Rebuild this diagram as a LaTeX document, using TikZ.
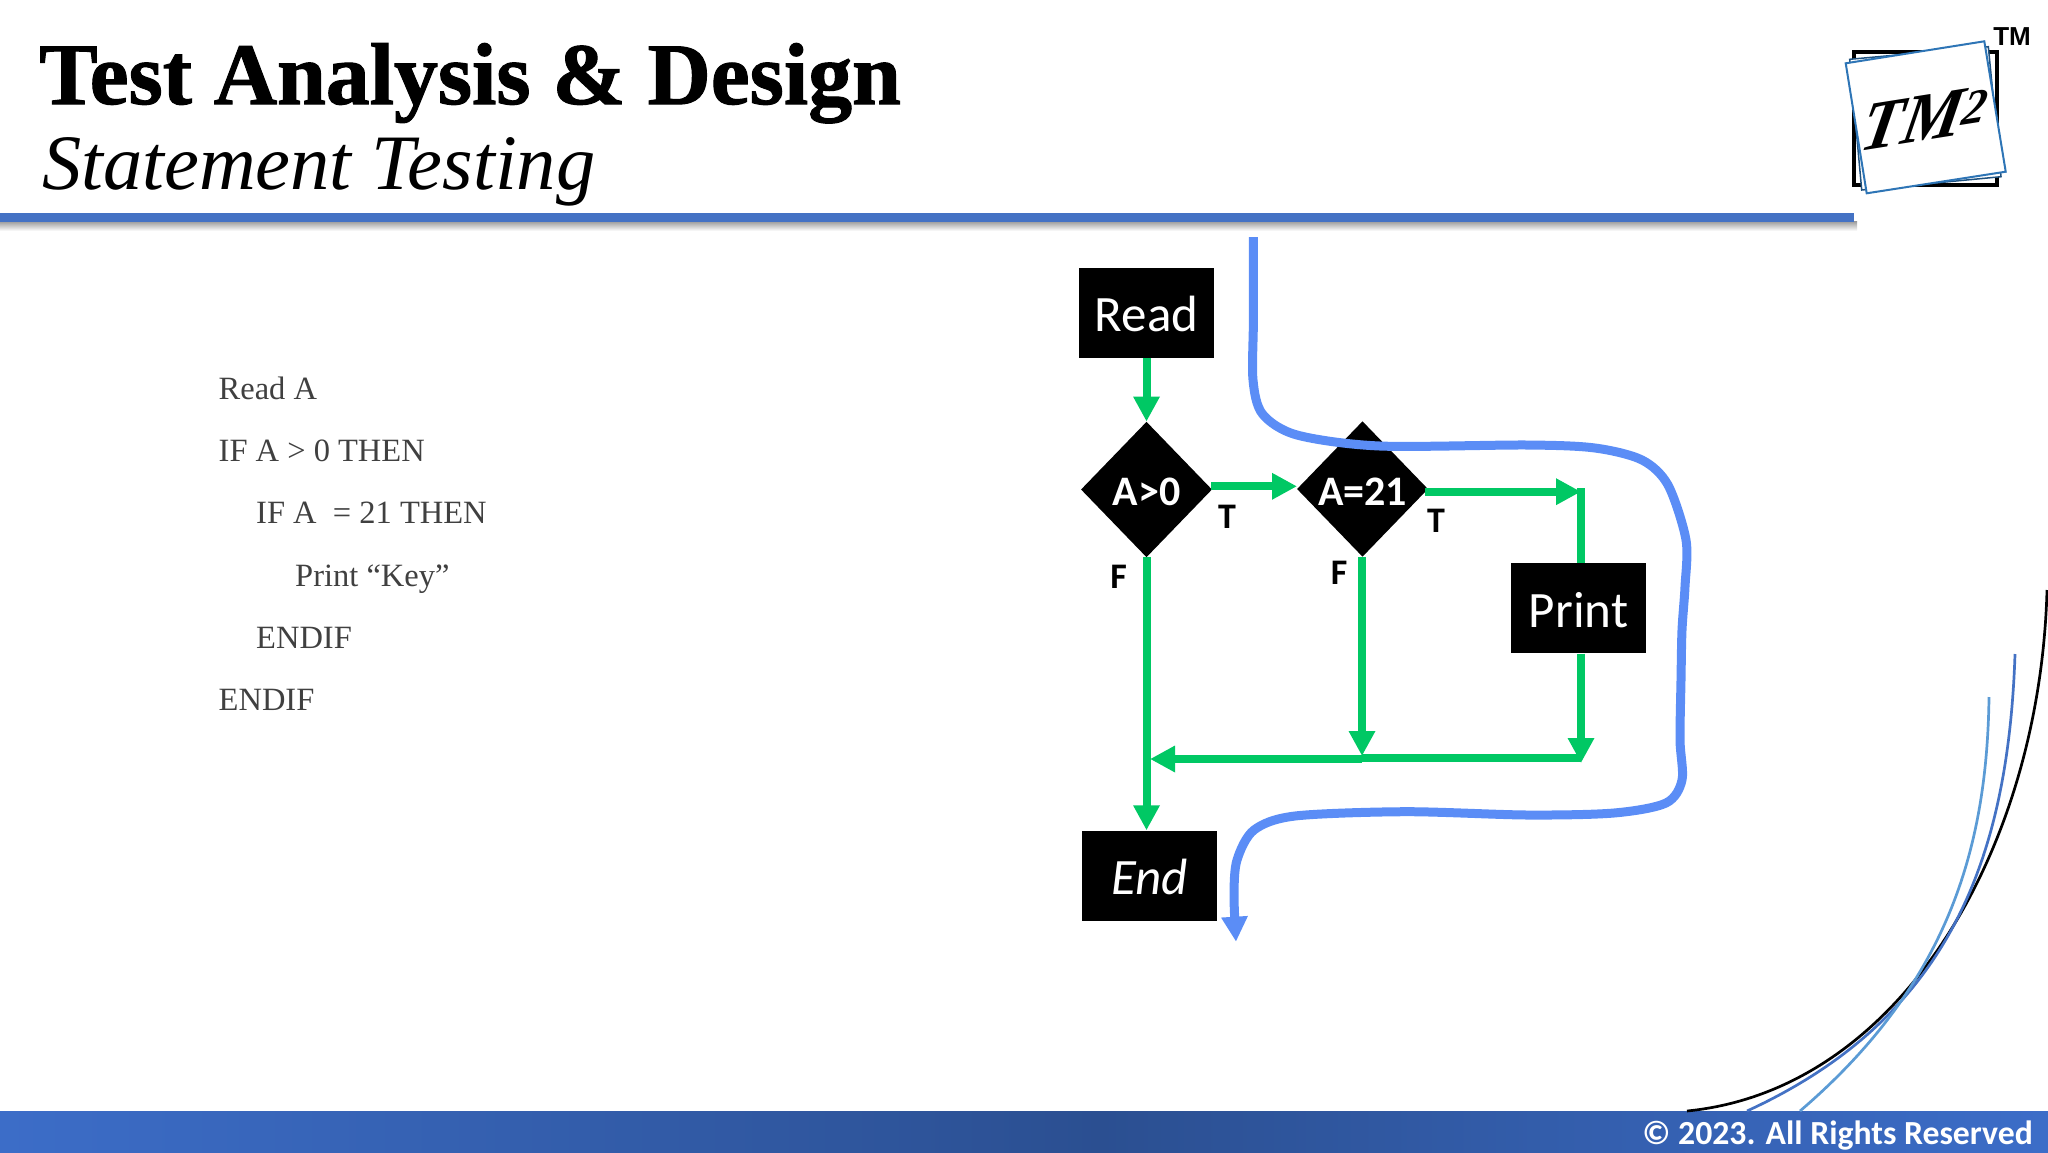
\documentclass[tikz,border=0pt]{standalone}
\usepackage{fontspec}
\setmainfont{Liberation Serif}
\newfontfamily\flowfont{Carlito}
\newfontfamily\armfont{Liberation Sans}
\newfontfamily\titlefont[FakeBold=1.2]{Liberation Serif}
\usetikzlibrary{arrows.meta,shapes.geometric}
\definecolor{flowgreen}{HTML}{00C864}
\definecolor{pathblue}{HTML}{5B8DF6}
\definecolor{ruleblue}{HTML}{4472C4}
\definecolor{lightblue}{HTML}{5B9BD5}
\definecolor{logoblue}{HTML}{2E75B6}
\definecolor{footdark}{HTML}{2B4F91}
\definecolor{footlight}{HTML}{3C6DC8}
\definecolor{codegray}{HTML}{404040}
\tikzset{
  stepbox/.style={fill=black,text=white,minimum width=135pt,minimum height=90pt,inner sep=0pt,text height=37.5pt,text depth=0pt,font=\flowfont\fontsize{51}{60}\selectfont},
  branch/.style={diamond,aspect=1,fill=black,text=white,minimum width=131pt,minimum height=135.5pt,inner sep=0pt,text height=32pt,text depth=0pt,font=\flowfont\bfseries\fontsize{42}{48}\selectfont},
  flag/.style={inner sep=0pt,font=\flowfont\bfseries\fontsize{36}{42}\selectfont},
  flow/.style={draw=flowgreen,line width=8pt,-{Triangle[length=25pt,width=25pt]}},
  flowline/.style={draw=flowgreen,line width=8pt},
  codeline/.style={anchor=base west,inner sep=0pt,text=codegray,font=\fontsize{32.5}{38}\selectfont},
  cornerarc/.style={line width=2.7pt},
  sheet/.style={draw=logoblue,fill=white,line width=2pt}
}
\begin{document}
\begin{tikzpicture}[x=1pt,y=-1pt]
    \useasboundingbox (0,0) rectangle (2048,1152);
    % title
    \node[anchor=base west,inner sep=0pt,font=\titlefont\bfseries\fontsize{87.7}{100}\selectfont] (title) at (39,104) {Test Analysis \& Design};
    \node[anchor=base west,inner sep=0pt,font=\itshape\fontsize{78.5}{90}\selectfont] (subtitle) at (42,189) {Statement Testing};
    % rule under the title
    \fill[top color=black!40,bottom color=white] (0,221) rectangle (1857,231);
    \fill[ruleblue] (0,213) rectangle (1854,222);

    % logo
    \draw[line width=4pt] (1854,52) rectangle (1997,185);
    \draw[draw=logoblue!70!black,fill=white,line width=1.5pt] (1849.7,59.3) -- (1988.3,46.7) -- (2001,176.7) -- (1861.7,190) -- cycle;
    \draw[sheet] (1845.7,63.3) -- (1984.3,41.3) -- (2005.7,171.7) -- (1866.7,193.3) -- cycle;
    \node[rotate=9,xslant=0.35,inner sep=0pt,font=\bfseries\itshape\fontsize{68}{74}\selectfont] (logotext) at (1925,118) {TM\textsuperscript{2}};
    \node[inner sep=0pt,font=\armfont\bfseries\fontsize{26}{30}\selectfont] (trademark) at (2012,37) {TM};

    % pseudo code
    \node[codeline] (lineA) at (218.5,399) {Read A};
    \node[codeline] (lineB) at (218.5,461) {IF A > 0 THEN};
    \node[codeline] (lineC) at (256,523) {IF A\ \ = 21 THEN};
    \node[codeline] (lineD) at (295,586) {Print “Key”};
    \node[codeline] (lineE) at (256,648) {ENDIF};
    \node[codeline] (lineF) at (218.5,710) {ENDIF};

    % boxes and decisions
    \node[stepbox] (read) at (1146.5,312.7) {Read};
    \node[branch] (ifOne) at (1146.5,489.5) {A>0};
    \node[branch] (ifTwo) at (1362.5,489) {A=21};
    \node[stepbox] (print) at (1578.5,608.3) {Print};
    \node[stepbox,font=\flowfont\itshape\fontsize{51}{60}\selectfont] (end) at (1149.5,875.5) {End};
    \node[flag] (tOne) at (1227,517) {T};
    \node[flag] (tTwo) at (1436,521) {T};
    \node[flag] (fOne) at (1118.5,577) {F};
    \node[flag] (fTwo) at (1339,573) {F};

    % green connectors
    \coordinate (oneOut) at (1211,486.3);
    \coordinate (oneIn) at (1297,486.3);
    \coordinate (twoOut) at (1425,491.7);
    \coordinate (twoIn) at (1581,491.7);
    \coordinate (printTop) at (1581,488);
    \coordinate (printLow) at (1581,763);
    \coordinate (twoLow) at (1362,756);
    \coordinate (joinRight) at (1581,758);
    \coordinate (joinMid) at (1362,759);
    \coordinate (joinLeft) at (1150,759);
    \draw[flow] (read.south) -- (ifOne.north);
    \draw[flow] (oneOut) -- (oneIn);
    \draw[flow] (twoOut) -- (twoIn);
    \draw[flowline] (printTop) -- (print.north -| printTop);
    \draw[flow] (print.south -| printLow) -- (printLow);
    \draw[flow] (ifTwo.south -| twoLow) -- (twoLow);
    \draw[flowline] (joinRight) -- (joinRight -| joinMid);
    \draw[flow] (joinMid) -- (joinLeft);
    \draw[flow] (ifOne.south) -- (ifOne.south |- end.north);

    % blue path through the code
    \draw[pathblue,line width=9pt,-{Triangle[length=25pt,width=25pt]}] plot[smooth,tension=0.5] coordinates {
      (1253.4,237) (1253.4,320) (1253,380) (1262.5,414) (1297,435) (1379.6,446)
      (1527,445) (1595,448) (1642,460) (1668,485) (1686,540) (1685,586.7)
      (1682,630) (1681,680) (1680,740) (1682,780) (1666,803) (1614,813)
      (1527,815) (1405.6,811.7) (1295,816) (1254,830) (1237,860) (1234,895) (1236,941.7)};

    % footer
    \fill[left color=footlight,right color=footdark] (0,1111) rectangle (1100,1152);
    \fill[left color=footdark,right color=footlight] (1100,1111) rectangle (2048,1152);
    \node[anchor=base east,inner sep=0pt,text=white,font=\flowfont\bfseries\fontsize{33.7}{40}\selectfont] (rights) at (2033,1144) {© 2023. All Rights Reserved};

    % corner arcs
    \draw[cornerarc,black] (2047,590) .. controls (2040,850) and (1900,1090) .. (1687,1111);
    \draw[cornerarc,ruleblue] (2015,654) .. controls (2008,865) and (1945,1020) .. (1747,1111);
    \draw[cornerarc,lightblue] (1989,697) .. controls (1987,850) and (1947,985) .. (1800,1111);
\end{tikzpicture}
\end{document}
